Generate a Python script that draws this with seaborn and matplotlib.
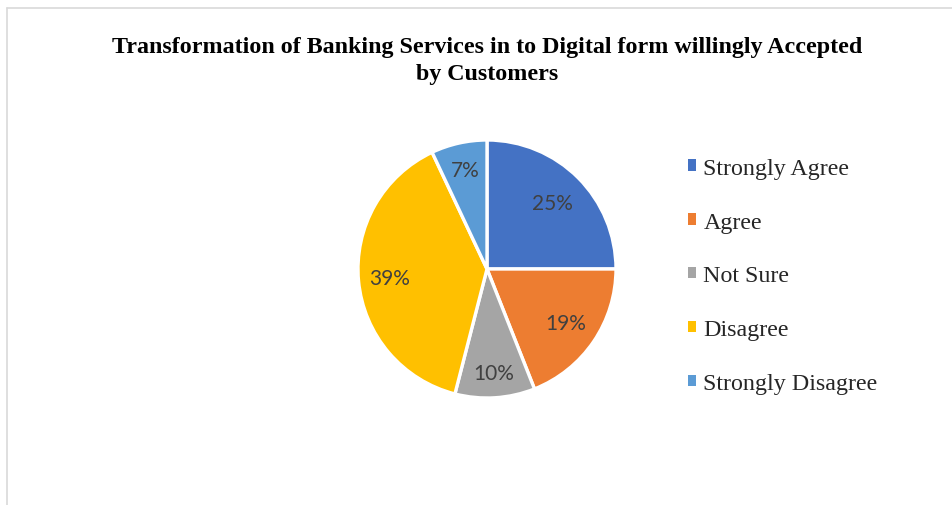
import matplotlib
matplotlib.use("Agg")
import matplotlib.pyplot as plt
import numpy as np
from matplotlib.lines import Line2D
from matplotlib.patches import Patch
import seaborn as sns

# Survey responses (percent of customers)
categories = ["Strongly Agree", "Agree", "Not Sure", "Disagree", "Strongly Disagree"]
shares = [25, 19, 10, 39, 7]
colors = ["#4472C4", "#ED7D31", "#A5A5A5", "#FFC000", "#5B9BD5"]
title_text = "Transformation of Banking Services in to Digital form willingly Accepted\nby Customers"

# radial placement of each percentage label, as a fraction of the radius
label_radius = [0.72, 0.74, 0.81, 0.76, 0.79]

sns.set_theme(style="white")
plt.rcParams["font.family"] = ["Liberation Serif", "DejaVu Serif"]

W, H = 952, 506
fig = plt.figure(figsize=(W / 100, H / 100), dpi=100)
fig.patch.set_facecolor("white")

# Pie axes: centre (487, 270) px, radius 129 px
cx, cy, r = 487, 270, 129
ax = fig.add_axes([(cx - r) / W, (H - cy - r) / H, 2 * r / W, 2 * r / H])
wedges, _, autotexts = ax.pie(
    shares,
    colors=colors,
    startangle=90,
    counterclock=False,
    autopct="%d%%",
    pctdistance=0.76,
    wedgeprops=dict(edgecolor="white", linewidth=2.4),
    textprops=dict(color="#404040", fontsize=15, family=["Lato", "DejaVu Sans"]),
)
for w, t, rf in zip(wedges, autotexts, label_radius):
    ang = np.deg2rad((w.theta1 + w.theta2) / 2)
    t.set_position((rf * np.cos(ang), rf * np.sin(ang)))
ax.set_xlim(-1.0, 1.0)
ax.set_ylim(-1.0, 1.0)
ax.set_aspect("equal")
ax.axis("off")

# Title
fig.text(487 / W, 1 - 61 / H, title_text, ha="center", va="center",
         fontsize=17.3, fontweight="bold", color="black", linespacing=1.36)

# Legend
handles = [Patch(facecolor=c, edgecolor="none") for c in colors]
fig.legend(handles, categories, loc="upper left",
           bbox_to_anchor=(678 / W, 1 - 149 / H),
           frameon=False, fontsize=17.3, handlelength=0.34, handleheight=0.34,
           handletextpad=0.32, labelspacing=1.37, borderaxespad=0)

# Chart area frame (left and top edges)
fig.add_artist(Line2D([6.5 / W, 6.5 / W], [0, 1 - 8.5 / H], transform=fig.transFigure,
                      color="#D9D9D9", linewidth=1.2))
fig.add_artist(Line2D([6.5 / W, 1], [1 - 8.5 / H, 1 - 8.5 / H], transform=fig.transFigure,
                      color="#D9D9D9", linewidth=1.2))

fig.savefig("out.png", dpi=100, facecolor="white")
